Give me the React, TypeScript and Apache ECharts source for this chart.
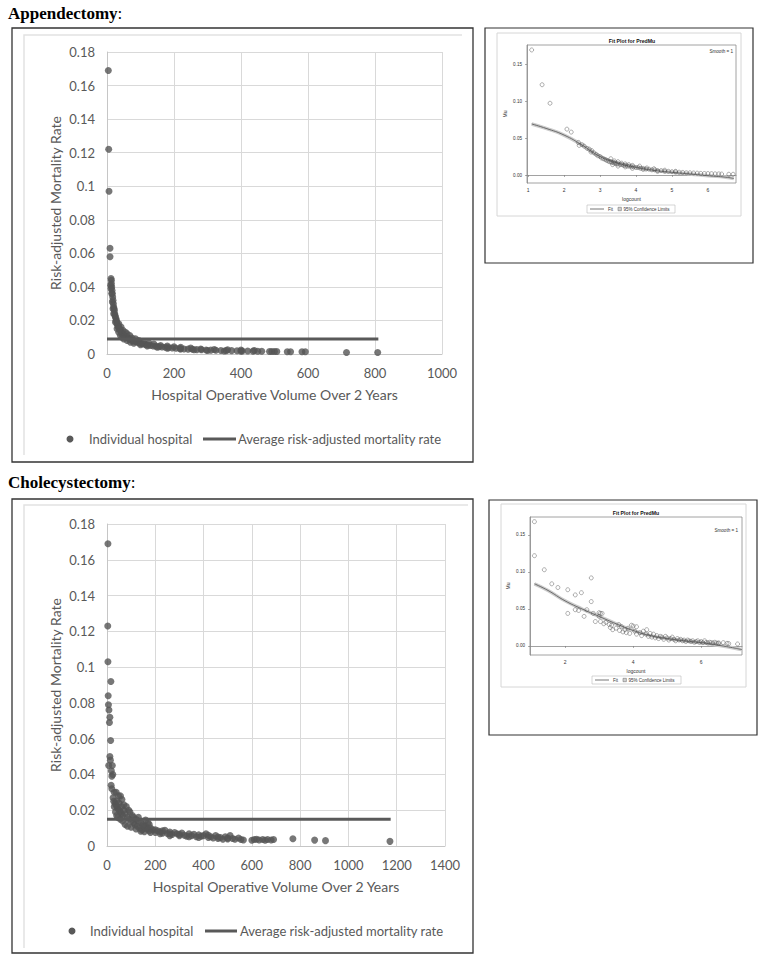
import React, { useEffect, useRef } from "react";
import * as echarts from "echarts";

// ---------- DATA ----------
// Appendectomy: hospital operative volume vs risk-adjusted mortality rate
const appVolume = [4,5,6,9,9,12,13,13,14,15,16,17,18,19,20,21,22,23,24,25,27,28,29,30,32,34,36,38,40,43,46,49,52,55,58,62,66,70,75,80,85,90,96,102,108,115,122,130,138,146,155,164,174,184,195,206,218,230,242,255,268,282,296,310,325,340,356,372,388,404,420,436,450,462,485,492,500,507,538,548,582,592,715,808,
  35,42,48,55,60,68,75,85,95,110,125,140,160,180,200,220,250,280,320,360,400,440,
  20,25,30,35,40,45,50,60,70,80,100,120,150,180,220,260,300,350,400,11,12,14,16,18];
const appRate = [0.169,0.122,0.097,0.063,0.058,0.045,0.044,0.042,0.040,0.038,0.036,0.034,0.032,0.030,0.028,0.027,0.026,0.024,0.023,0.022,0.021,0.020,0.019,0.018,0.017,0.016,0.0155,0.015,0.014,0.013,0.012,0.0115,0.011,0.0105,0.010,0.0095,0.009,0.0085,0.008,0.0078,0.0074,0.007,0.0066,0.0063,0.006,0.0057,0.0054,0.0051,0.0048,0.0046,0.0044,0.0042,0.004,0.0038,0.0036,0.0034,0.0032,0.003,0.0029,0.0028,0.0026,0.0025,0.0024,0.0023,0.0022,0.0021,0.002,0.002,0.0019,0.0018,0.0018,0.0017,0.0016,0.0016,0.0015,0.0015,0.0015,0.0015,0.0013,0.0013,0.0013,0.0013,0.0009,0.0009,
  0.018,0.016,0.014,0.013,0.012,0.011,0.0095,0.009,0.008,0.007,0.0065,0.006,0.005,0.0047,0.0043,0.004,0.0035,0.003,0.0027,0.0025,0.0023,0.0021,
  0.024,0.019,0.015,0.013,0.011,0.010,0.009,0.008,0.007,0.0065,0.0055,0.0048,0.004,0.0035,0.003,0.0025,0.0021,0.0018,0.0016,0.041,0.039,0.036,0.031,0.027];
const appAverageRate = 0.009;
const appAverageSpan = [0, 810];

// Cholecystectomy
const choVolume = [4,3,4,16,5,6,8,12,10,15,12,14,7,22,18,20,24,17,20,30,38,48,56,62,25,28,33,36,42,45,50,55,60,65,70,75,80,85,90,95,100,105,110,115,120,125,130,135,140,145,150,155,160,165,170,175,180,190,200,210,220,230,240,250,260,270,280,290,300,310,320,330,340,350,360,370,380,390,400,410,420,430,440,450,460,470,480,490,500,510,520,530,545,555,565,600,610,620,630,645,655,665,680,690,770,860,905,1172,
  30,35,40,45,55,65,75,85,100,120,140,40,50,60,70,90,110,130,150,170,200,230,260,300,340,380,420,460,500,180,220,260,160,175];
const choRate = [0.169,0.123,0.103,0.092,0.084,0.079,0.076,0.072,0.069,0.059,0.050,0.048,0.045,0.045,0.042,0.039,0.040,0.034,0.032,0.030,0.030,0.028,0.028,0.026,0.027,0.025,0.024,0.023,0.022,0.021,0.020,0.019,0.018,0.017,0.020,0.018,0.022,0.016,0.015,0.019,0.014,0.017,0.013,0.012,0.015,0.011,0.016,0.010,0.013,0.009,0.012,0.008,0.011,0.0095,0.013,0.0085,0.010,0.009,0.0075,0.0085,0.008,0.0072,0.0088,0.007,0.0078,0.0065,0.0075,0.0068,0.0058,0.0072,0.006,0.0055,0.0068,0.0058,0.0065,0.0052,0.0062,0.0055,0.0058,0.0068,0.0048,0.0052,0.0045,0.0058,0.0042,0.0048,0.0038,0.0052,0.0045,0.0058,0.0042,0.0038,0.0045,0.0036,0.0034,0.0032,0.0036,0.0038,0.0034,0.0036,0.0032,0.0036,0.0034,0.0036,0.0041,0.0033,0.003,0.0026,
  0.022,0.019,0.017,0.016,0.015,0.014,0.012,0.011,0.0105,0.0095,0.0082,0.025,0.024,0.022,0.023,0.020,0.016,0.014,0.011,0.0095,0.009,0.0085,0.0068,0.0065,0.0052,0.0048,0.006,0.005,0.004,0.0075,0.0068,0.0058,0.0145,0.012];
const choAverageRate = 0.015;
const choAverageSpan = [0, 1175];

// SAS fit plots (logcount vs Mu)
const appLogCount = [1.1,1.39,1.61,2.08,2.2,2.4,2.42,2.5,2.56,2.64,2.7,2.75,2.77,2.83,2.89,2.94,3.0,3.04,3.09,3.14,3.18,3.22,3.26,3.3,3.33,3.37,3.4,3.43,3.47,3.5,3.56,3.61,3.66,3.71,3.76,3.81,3.87,3.93,4.0,4.06,4.13,4.2,4.28,4.36,4.44,4.52,4.6,4.7,4.8,4.9,5.0,5.1,5.2,5.3,5.4,5.5,5.6,5.7,5.8,5.9,6.0,6.1,6.2,6.3,6.38,6.58,6.7,
  3.3,3.4,3.5,3.6,3.7,3.8,3.9,4.1,4.3,4.5,4.8,5.1,3.35,3.5,3.7,3.9,4.2,4.6];
const appMu = [0.169,0.122,0.097,0.062,0.058,0.044,0.040,0.041,0.039,0.036,0.035,0.031,0.033,0.030,0.028,0.026,0.025,0.023,0.022,0.021,0.020,0.019,0.018,0.018,0.017,0.017,0.016,0.016,0.015,0.015,0.014,0.014,0.013,0.013,0.012,0.012,0.011,0.011,0.010,0.010,0.009,0.009,0.008,0.008,0.007,0.007,0.006,0.006,0.005,0.005,0.0045,0.004,0.0038,0.0035,0.003,0.003,0.0027,0.0025,0.0022,0.002,0.002,0.0018,0.0016,0.0015,0.0013,0.001,0.001,
  0.022,0.019,0.018,0.016,0.015,0.014,0.013,0.012,0.0095,0.0085,0.0065,0.005,0.014,0.012,0.011,0.009,0.0075,0.005];
const appFitX = [1.1,1.5,2,2.5,3,3.5,4,4.5,5,5.5,6,6.5,6.72];
const appFitY = [0.069,0.063,0.054,0.0405,0.025,0.016,0.0104,0.0063,0.0036,0.0014,-0.001,-0.003,-0.0048];

const choLogCount = [1.1,1.1,1.39,1.61,1.79,2.08,2.08,2.3,2.3,2.4,2.48,2.56,2.64,2.77,2.77,2.83,2.89,3.0,3.04,3.09,3.0,3.04,3.14,3.2,3.3,3.33,3.37,3.4,3.5,3.58,3.6,3.66,3.7,3.76,3.8,3.85,3.9,3.95,4.0,4.05,4.1,4.1,4.2,4.25,4.3,4.38,4.4,4.45,4.5,4.55,4.6,4.65,4.7,4.75,4.8,4.85,4.9,4.95,5.0,5.05,5.1,5.15,5.2,5.25,5.3,5.35,5.4,5.45,5.5,5.55,5.6,5.65,5.7,5.75,5.8,5.85,5.9,5.95,6.0,6.05,6.1,6.15,6.2,6.25,6.3,6.35,6.4,6.45,6.5,6.52,6.65,6.76,6.81,7.07];
const choMu = [0.168,0.122,0.103,0.084,0.079,0.076,0.044,0.069,0.049,0.048,0.072,0.040,0.049,0.092,0.060,0.044,0.033,0.045,0.044,0.044,0.040,0.033,0.030,0.032,0.029,0.025,0.028,0.022,0.024,0.029,0.021,0.026,0.019,0.022,0.018,0.024,0.017,0.028,0.027,0.020,0.026,0.016,0.018,0.014,0.020,0.016,0.022,0.013,0.017,0.012,0.016,0.011,0.014,0.010,0.013,0.012,0.009,0.013,0.011,0.008,0.010,0.012,0.009,0.007,0.010,0.008,0.009,0.007,0.008,0.006,0.008,0.007,0.006,0.007,0.005,0.006,0.007,0.005,0.006,0.0045,0.007,0.005,0.004,0.005,0.0045,0.004,0.005,0.004,0.0037,0.004,0.0045,0.0036,0.0033,0.0027];
const choFitX = [1.1,1.5,2,2.5,3,3.5,4,4.5,5,5.5,6,6.5,7,7.2];
const choFitY = [0.084,0.075,0.061,0.050,0.040,0.030,0.021,0.014,0.010,0.007,0.0045,0.001,-0.003,-0.005];

// tick labels
const appYTicks = [0, 0.02, 0.04, 0.06, 0.08, 0.1, 0.12, 0.14, 0.16, 0.18];
const appSmallXTicks = [1, 2, 3, 4, 5, 6];
const choSmallXTicks = [2, 4, 6];
const smallYTicks = [0, 0.05, 0.1, 0.15];

const SANS = "Lato";
const SAS = "Liberation Sans";
const GRAY = "#595959";

const zip = (a: number[], b: number[]) => a.map((v, i) => [v, b[i]]);

function bigAxes(gi: number, xmax: number) {
  const x = {
    type: "value", gridIndex: gi, min: 0, max: xmax, interval: 200,
    name: "Hospital Operative Volume Over 2 Years", nameLocation: "middle", nameGap: 33,
    nameTextStyle: { fontFamily: SANS, fontSize: 14, color: GRAY },
    axisLine: { show: true, lineStyle: { color: "#c6c6c6", width: 1 } },
    axisTick: { show: false },
    axisLabel: { fontFamily: SANS, fontSize: 13, color: GRAY, margin: 12, formatter: (v: number) => String(v) },
    splitLine: { show: true, lineStyle: { color: "#d9d9d9", width: 1 } },
  };
  const y = {
    type: "value", gridIndex: gi, min: 0, max: 0.18, interval: 0.02,
    name: "Risk-adjusted Mortality Rate", nameLocation: "middle", nameGap: 45,
    nameTextStyle: { fontFamily: SANS, fontSize: 14, color: GRAY },
    axisLine: { show: true, lineStyle: { color: "#c6c6c6", width: 1 } },
    axisTick: { show: false },
    axisLabel: { fontFamily: SANS, fontSize: 13, color: GRAY, margin: 12, formatter: (v: number) => String(+v.toFixed(2)) },
    splitLine: { show: true, lineStyle: { color: "#d9d9d9", width: 1 } },
  };
  return [x, y];
}

function smallAxes(gi: number, xmin: number, xmax: number, xticks: number[], ymin: number, ymax: number) {
  const common = {
    axisLine: { show: true, lineStyle: { color: "#8a8a8a", width: 0.8 } },
    splitLine: { show: false },
  };
  const x = {
    type: "value", gridIndex: gi, min: xmin, max: xmax, ...common,
    name: "logcount", nameLocation: "middle", nameGap: 13,
    nameTextStyle: { fontFamily: SAS, fontSize: 5, color: "#333" },
    axisTick: { show: true, customValues: xticks, length: 2, lineStyle: { color: "#777", width: 0.6 } },
    axisLabel: { customValues: xticks, fontFamily: SAS, fontSize: 5, color: "#333", margin: 4, formatter: (v: number) => String(v) },
  };
  const y = {
    type: "value", gridIndex: gi, min: ymin, max: ymax, ...common,
    name: "Mu", nameLocation: "middle", nameGap: 20,
    nameTextStyle: { fontFamily: SAS, fontSize: 5, color: "#333" },
    axisTick: { show: true, customValues: smallYTicks, length: 2, lineStyle: { color: "#777", width: 0.6 } },
    axisLabel: { customValues: smallYTicks, fontFamily: SAS, fontSize: 4.6, color: "#333", margin: 5, formatter: (v: number) => v.toFixed(2) },
  };
  return [x, y];
}

const rect = (x1: number, y1: number, x2: number, y2: number, stroke: string, lw: number) => ({
  type: "rect", silent: true,
  shape: { x: x1, y: y1, width: x2 - x1, height: y2 - y1 },
  style: { fill: "none", stroke, lineWidth: lw },
});
const txt = (x: number, y: number, text: string, extra: any) => ({
  type: "text", x, y, silent: true,
  style: { text, fontFamily: SANS, fontSize: 13, fill: GRAY, verticalAlign: "middle", ...extra },
});

function bigLegend(y: number, dotX: number, t1X: number, l1: number, l2: number, t2X: number) {
  return [
    { type: "circle", silent: true, shape: { cx: dotX, cy: y, r: 3.5 }, style: { fill: GRAY } },
    txt(t1X, y, "Individual hospital", {}),
    { type: "line", silent: true, shape: { x1: l1, y1: y, x2: l2, y2: y }, style: { stroke: GRAY, lineWidth: 3 } },
    txt(t2X, y, "Average risk-adjusted mortality rate", {}),
  ];
}

function smallDecor(ox: number, oy: number, panel: number[], titleX: number, titleY: number, smoothX: number, smoothY: number, lg: number[]) {
  const [bx1, by1, bx2, by2] = lg;
  const cy = (by1 + by2) / 2;
  return [
    rect(panel[0], panel[1], panel[2], panel[3], "#d6d6d6", 1),
    { type: "text", x: titleX, y: titleY, silent: true, style: { text: "Fit Plot for PredMu", fontFamily: SAS, fontWeight: "bold", fontSize: 5.2, fill: "#111", align: "center", verticalAlign: "middle" } },
    { type: "text", x: smoothX, y: smoothY, silent: true, style: { text: "Smooth = 1", fontFamily: SAS, fontSize: 4.6, fill: "#333", align: "right", verticalAlign: "middle" } },
    rect(bx1, by1, bx2, by2, "#bbbbbb", 0.6),
    { type: "line", silent: true, shape: { x1: bx1 + 3, y1: cy, x2: bx1 + 17, y2: cy }, style: { stroke: "#777", lineWidth: 1 } },
    { type: "text", x: bx1 + 21, y: cy, silent: true, style: { text: "Fit", fontFamily: SAS, fontSize: 4.5, fill: "#333", verticalAlign: "middle" } },
    { type: "rect", silent: true, shape: { x: bx1 + 31, y: cy - 1.7, width: 3.4, height: 3.4 }, style: { fill: "#d0d0d0", stroke: "#666", lineWidth: 0.5 } },
    { type: "text", x: bx1 + 36.5, y: cy, silent: true, style: { text: "95% Confidence Limits", fontFamily: SAS, fontSize: 4.5, fill: "#333", verticalAlign: "middle" } },
  ];
}

export default function App() {
  const ref = useRef<HTMLDivElement>(null);
  useEffect(() => {
    if (!ref.current) return;
    const chart = echarts.init(ref.current, undefined, { renderer: "svg" });
    const [ax0, ay0] = bigAxes(0, 1000);
    const [ax1, ay1] = smallAxes(1, 0.97, 6.78, appSmallXTicks, -0.0108, 0.1757);
    const [ax2, ay2] = bigAxes(2, 1400);
    const [ax3, ay3] = smallAxes(3, 0.97, 7.2, choSmallXTicks, -0.0122, 0.1743);

    const bigScatter = (i: number, name: string, data: number[][]) => ({
      type: "scatter", name, xAxisIndex: i, yAxisIndex: i, data,
      symbol: "circle", symbolSize: 7, itemStyle: { color: "#555555" }, silent: true,
    });
    const avgLine = (i: number, span: number[], v: number) => ({
      type: "line", name: "Average risk-adjusted mortality rate", xAxisIndex: i, yAxisIndex: i,
      data: span.map((x) => [x, v]), symbol: "none", lineStyle: { color: GRAY, width: 3 }, silent: true, z: 3,
    });
    const smallScatter = (i: number, data: number[][]) => ({
      type: "scatter", xAxisIndex: i, yAxisIndex: i, data, symbol: "circle", symbolSize: 4,
      itemStyle: { color: "rgba(255,255,255,0)", borderColor: "#555", borderWidth: 0.6 }, silent: true, z: 4,
    });
    const fitBand = (i: number, data: number[][]) => ({
      type: "line", xAxisIndex: i, yAxisIndex: i, data, symbol: "none", smooth: true,
      lineStyle: { color: "#cccccc", width: 3.5 }, silent: true, z: 2,
    });
    const fitLine = (i: number, data: number[][]) => ({
      type: "line", xAxisIndex: i, yAxisIndex: i, data, symbol: "none", smooth: true,
      lineStyle: { color: "#6a6a6a", width: 1 }, silent: true, z: 3,
    });

    chart.setOption({
      animation: false,
      backgroundColor: "#ffffff",
      grid: [
        { left: 107, top: 52, width: 335, height: 302, containLabel: false },
        { left: 527, top: 45, width: 209, height: 138, show: true, borderColor: "#8a8a8a", borderWidth: 0.8, containLabel: false },
        { left: 107, top: 524, width: 338, height: 322, containLabel: false },
        { left: 530, top: 517, width: 212, height: 138, show: true, borderColor: "#8a8a8a", borderWidth: 0.8, containLabel: false },
      ],
      xAxis: [ax0, ax1, ax2, ax3],
      yAxis: [ay0, ay1, ay2, ay3],
      series: [
        bigScatter(0, "Individual hospital", zip(appVolume, appRate)),
        avgLine(0, appAverageSpan, appAverageRate),
        fitBand(1, zip(appFitX, appFitY)),
        fitLine(1, zip(appFitX, appFitY)),
        smallScatter(1, zip(appLogCount, appMu)),
        bigScatter(2, "Individual hospital", zip(choVolume, choRate)),
        avgLine(2, choAverageSpan, choAverageRate),
        fitBand(3, zip(choFitX, choFitY)),
        fitLine(3, zip(choFitX, choFitY)),
        smallScatter(3, zip(choLogCount, choMu)),
      ],
      graphic: [
        {
          type: "text", x: 8, y: 13, silent: true,
          style: {
            text: "{b|Appendectomy}{r|:}", verticalAlign: "middle",
            rich: {
              b: { fontFamily: "Liberation Serif", fontWeight: "bold", fontSize: 17, fill: "#000" },
              r: { fontFamily: "Liberation Serif", fontSize: 17, fill: "#000" },
            },
          },
        },
        {
          type: "text", x: 8, y: 482, silent: true,
          style: {
            text: "{b|Cholecystectomy}{r|:}", verticalAlign: "middle",
            rich: {
              b: { fontFamily: "Liberation Serif", fontWeight: "bold", fontSize: 17, fill: "#000" },
              r: { fontFamily: "Liberation Serif", fontSize: 17, fill: "#000" },
            },
          },
        },
        rect(12, 28, 473, 462, "#333333", 1.3),
        { type: "polyline", silent: true, shape: { points: [[24, 455], [24, 35], [462, 35]] }, style: { fill: "none", stroke: "#e2e2e2", lineWidth: 1.5 } },
        rect(12, 499, 473, 953, "#333333", 1.3),
        { type: "polyline", silent: true, shape: { points: [[24, 948], [24, 505], [468, 505]] }, style: { fill: "none", stroke: "#e2e2e2", lineWidth: 1.5 } },
        ...bigLegend(439, 70, 89, 203, 236, 238),
        ...bigLegend(931, 72, 90, 205, 237, 240),
        rect(485, 28, 753, 263, "#333333", 1.2),
        rect(489, 500, 757, 735, "#333333", 1.2),
        ...smallDecor(485, 28, [497, 33, 741, 216], 632, 41, 733, 51, [587, 205, 675, 213]),
        ...smallDecor(488, 500, [501, 504, 746, 687], 636, 513, 738, 530, [592, 676, 681, 684]),
      ],
    });
    return () => chart.dispose();
  }, []);
  return (
    <div
      ref={ref}
      style={{ position: "absolute", left: 0, top: 0, width: 770, height: 960, background: "#fff" }}
    />
  );
}
